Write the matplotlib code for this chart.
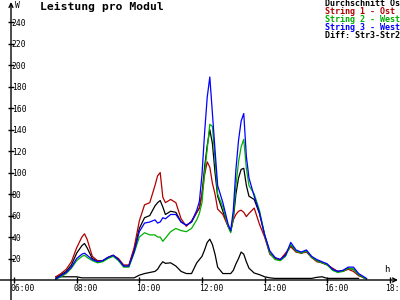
import numpy as np
import matplotlib
matplotlib.use("Agg")
import matplotlib.pyplot as plt
from matplotlib.transforms import ScaledTranslation

times = ["07:20","07:30","07:40","07:50","08:00","08:10","08:15","08:20","08:30","08:40",
         "08:50","09:00","09:10","09:20","09:30","09:40","09:50","10:00","10:10","10:20",
         "10:30","10:35","10:40","10:45","10:50","11:00","11:10","11:20","11:30","11:40",
         "11:50","11:55","12:00","12:05","12:10","12:15","12:20","12:25","12:30","12:40",
         "12:50","12:55","13:00","13:05","13:10","13:15","13:20","13:25","13:30","13:40",
         "13:50","14:00","14:10","14:20","14:30","14:40","14:50","15:00","15:10","15:20",
         "15:30","15:40","15:50","16:00","16:10","16:20","16:30","16:40","16:50","17:00",
         "17:10","17:15"]

str1_ost = [3, 6, 10, 17, 30, 40, 43, 38, 22, 18,
            18, 21, 23, 20, 14, 14, 30, 55, 70, 72,
            88, 97, 100, 77, 72, 75, 72, 57, 50, 55,
            63, 67, 80, 98, 110, 105, 90, 80, 66, 61,
            50, 46, 56, 61, 64, 65, 63, 59, 62, 67,
            52, 40, 24, 20, 19, 25, 31, 26, 25, 26,
            21, 17, 16, 14, 11, 8, 8, 10, 8, 4,
            2, 1]

str2_west = [0.5, 3, 6, 11, 18, 22, 23, 21, 18, 16,
             17, 20, 22, 18, 12, 12, 25, 40, 44, 42,
             42, 40, 40, 36, 39, 45, 48, 46, 45, 48,
             56, 62, 72, 100, 122, 145, 143, 112, 80, 68,
             50, 44, 59, 88, 110, 124, 131, 104, 88, 80,
             65, 42, 25, 19, 18, 22, 33, 27, 25, 27,
             21, 18, 16, 14, 9, 7, 8, 11, 10, 5,
             2, 1]

str3_west = [1, 4, 7, 12, 20, 24, 25, 23, 19, 17,
             18, 21, 23, 19, 13, 13, 26, 45, 53, 54,
             56, 53, 54, 58, 57, 61, 61, 54, 51, 54,
             65, 73, 98, 137, 170, 189, 155, 121, 88, 72,
             52, 46, 65, 103, 130, 148, 155, 115, 95, 78,
             63, 42, 27, 21, 19, 23, 35, 28, 26, 28,
             22, 19, 17, 15, 10, 8, 9, 12, 12, 6,
             3, 1.5]

mittel = [1.5, 5, 8, 14, 25, 32, 34, 30, 20, 17.5,
          18, 21, 23, 19, 13, 13, 28, 48, 58, 60,
          69, 72, 74, 68, 61, 64, 63, 54, 51, 54,
          63, 67, 80, 105, 125, 140, 127, 100, 78, 64,
          50, 45, 57, 80, 95, 103, 104, 88, 78, 75,
          62, 42, 25, 20, 19, 24, 32, 27, 25, 27,
          21, 18, 16, 14, 10, 8, 8.5, 11, 10, 5,
          2, 1]

diff = [3, 3, 3, 3, 3, 2, 2, 2, 2, 2,
        2, 2, 2, 2, 2, 2, 2, 4.5, 6, 7,
        8, 10, 14, 17, 15.5, 16, 13, 8, 6, 6,
        16, 19, 22, 28, 35, 38, 33, 24, 12, 6,
        6, 6, 9, 15, 20, 26, 24, 17, 11, 6.5,
        5, 3, 2, 1.5, 1.5, 1.5, 1.5, 1.5, 1.5, 1.5,
        1.5, 2.5, 3, 1.5, 1.5, 1.5, 1.5, 1.5, 1.5, 1.5,
        np.nan, np.nan]

legend_labels = ["Durchschnitt Os", "String 1 - Ost", "String 2 - West",
                 "String 3 - West", "Diff: Str3-Str2"]
legend_colors = ["#000000", "#b00000", "#00b000", "#0000ff", "#000000"]

x_ticks = [6, 8, 10, 12, 14, 16, 18]
x_tick_labels = ["06:00", "08:00", "10:00", "12:00", "14:00", "16:00", "18:"]
y_ticks = list(range(20, 241, 20))

def to_hours(s):
    h, m = s.split(":")
    return int(h) + int(m) / 60.0

t = np.array([to_hours(s) for s in times])

mono = "DejaVu Sans Mono"
fig = plt.figure(figsize=(4, 3), dpi=100)
ax = fig.add_axes([11/400, 20/300, 387/400, 278/300])
ax.set_xlim(6 + (11 - 14) / 31.33, 6 + (398 - 14) / 31.33)
ax.set_ylim(0, 278 / 1.074)
for s in ax.spines.values():
    s.set_visible(False)

lw = 0.9
ax.plot(t, diff, color="#000000", lw=lw)
ax.plot(t, mittel, color="#000000", lw=lw)
ax.plot(t, str1_ost, color="#b00000", lw=lw)
ax.plot(t, str2_west, color="#00b000", lw=lw)
ax.plot(t, str3_west, color="#0000ff", lw=lw)

# axes with arrows
ax.annotate("", xy=(1.0, 0), xytext=(-11/387, 0), xycoords="axes fraction",
            arrowprops=dict(arrowstyle="->", lw=1, color="black", shrinkA=0, shrinkB=0,
                            mutation_scale=7))
ax.annotate("", xy=(0, 1.0), xytext=(0, -20/278), xycoords="axes fraction",
            arrowprops=dict(arrowstyle="->", lw=1, color="black", shrinkA=0, shrinkB=0,
                            mutation_scale=7))

ax.set_xticks(x_ticks)
ax.set_xticklabels(x_tick_labels, fontfamily=mono, fontsize=5.8)
ax.set_yticks(y_ticks)
ax.set_yticklabels([str(v) for v in y_ticks], fontfamily=mono, fontsize=5.8)
ax.tick_params(axis="x", direction="inout", length=5, width=1, pad=0.5)
ax.tick_params(axis="y", direction="inout", length=5, width=1, pad=-3)
xlabels = ax.get_xticklabels()
for i, lab in enumerate(xlabels):
    shift = -3 if i < len(xlabels) - 1 else -5
    lab.set_horizontalalignment("left")
    lab.set_transform(lab.get_transform() +
                      ScaledTranslation(shift/100, 0, fig.dpi_scale_trans))
for lab in ax.get_yticklabels():
    lab.set_horizontalalignment("left")

fig.text(40/400, 1 - 7/300, "Leistung pro Modul", fontfamily=mono, fontweight="bold",
         fontsize=8.2, ha="left", va="center")
fig.text(15/400, 1 - 5/300, "W", fontfamily=mono, fontsize=5.8, ha="left", va="center")
fig.text(387/400, 1 - 270/300, "h", fontfamily=mono, fontsize=6.5, ha="center", va="center")

ys = [4, 12, 20, 27.5, 35]
for lab, col, yy in zip(legend_labels, legend_colors, ys):
    fig.text(325/400, 1 - yy/300, lab, color=col, fontfamily=mono, fontweight="bold",
             fontsize=6, ha="left", va="center")

fig.savefig("out.png", dpi=100)
